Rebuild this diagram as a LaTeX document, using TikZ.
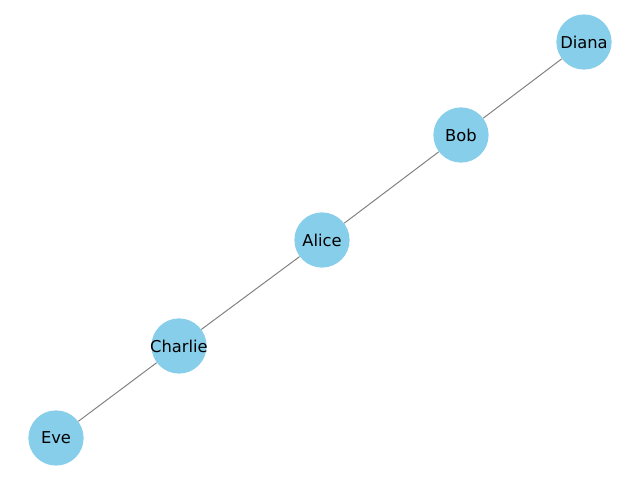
\documentclass[tikz,border=0pt]{standalone}
\usepackage{fontspec}
\setmainfont{DejaVu Sans}
\definecolor{skyblue}{RGB}{135,206,235}

\begin{document}
\begin{tikzpicture}[x=0.025cm, y=-0.025cm,
    person/.style={circle, fill=skyblue, minimum size=1.38cm, inner sep=-10pt,
        font=\fontsize{11.6}{14}\selectfont},
    link/.style={draw=gray, line width=0.7pt}]
    \useasboundingbox (0,0) rectangle (640,480);

    \node[person] (diana) at (584,42) {Diana};
    \node[person] (bob) at (461,135) {Bob};
    \node[person] (alice) at (322,240) {Alice};
    \node[person] (charlie) at (179,346) {Charlie};
    \node[person] (eve) at (56,438) {Eve};

    \path[link] (alice) -- (bob);
    \path[link] (alice) -- (charlie);
    \path[link] (bob) -- (diana);
    \path[link] (charlie) -- (eve);
\end{tikzpicture}
\end{document}
